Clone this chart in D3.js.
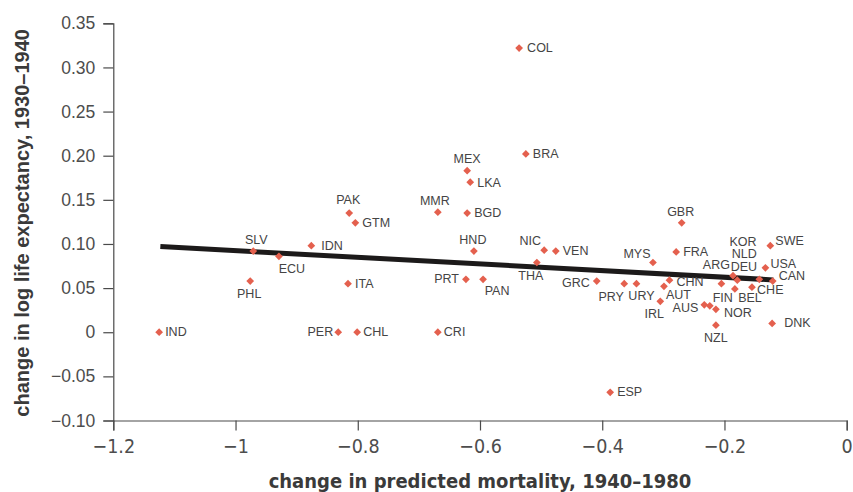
<!DOCTYPE html>
<html>
<head>
<meta charset="utf-8">
<script src="https://cdn.jsdelivr.net/npm/d3@7"></script>
<style>
  html, body { margin: 0; padding: 0; background: #fff; }
  svg { display: block; }
</style>
</head>
<body>
<svg id="chart" width="853" height="492"></svg>
<script>
// ---- data ----
const countries = ["COL","BRA","MEX","LKA","MMR","BGD","PAK","GTM","HND","NIC","VEN","THA","IDN","SLV","ECU","PHL","ITA","IND","PER","CHL","CRI","PRT","PAN","GRC","ESP","GBR","FRA","MYS","PRY","URY","CHN","AUT","IRL","ARG","KOR","NLD","DEU","FIN","BEL","CHE","CAN","USA","SWE","DNK","AUS","NOR","NZL"];
const mortalityChange = [-0.536,-0.525,-0.621,-0.616,-0.669,-0.621,-0.814,-0.804,-0.610,-0.495,-0.476,-0.507,-0.876,-0.971,-0.929,-0.976,-0.816,-1.125,-0.832,-0.801,-0.669,-0.623,-0.595,-0.409,-0.387,-0.270,-0.279,-0.317,-0.364,-0.344,-0.290,-0.299,-0.305,-0.205,-0.186,-0.179,-0.183,-0.224,-0.155,-0.143,-0.121,-0.133,-0.125,-0.122,-0.233,-0.214,-0.214];
const lifeExpChange = [0.322,0.202,0.183,0.170,0.136,0.135,0.135,0.124,0.092,0.093,0.092,0.079,0.098,0.092,0.086,0.058,0.055,0.000,0.000,0.000,0.000,0.060,0.060,0.058,-0.068,0.124,0.091,0.079,0.055,0.055,0.059,0.052,0.035,0.055,0.064,0.059,0.049,0.030,0.051,0.060,0.058,0.073,0.098,0.010,0.031,0.026,0.008];
const xTicks = [-1.2,-1,-0.8,-0.6,-0.4,-0.2,0];
const yTicks = [-0.10,-0.05,0,0.05,0.10,0.15,0.20,0.25,0.30,0.35];
const fitIntercept = 0.0548;
const fitSlope = -0.0376;
const fitRange = [-1.123, -0.120];
const xTitle = "change in predicted mortality, 1940–1980";
const yTitle = "change in log life expectancy, 1930–1940";

// ---- label placement (layout only) ----
const labelPlace = {
  COL:["start",8,0], BRA:["start",7,0], MEX:["middle",0,-12], LKA:["start",7,1],
  MMR:["middle",-3,-11], BGD:["start",7,0], PAK:["middle",-1,-13], GTM:["start",7,0],
  HND:["middle",-1,-11], NIC:["middle",-14,-9], VEN:["start",7,0], THA:["middle",-6,13],
  IDN:["start",10,0], SLV:["middle",3,-11], ECU:["middle",13,13], PHL:["middle",-1,13],
  ITA:["start",7,0], IND:["start",6,0], PER:["end",-5,0], CHL:["start",6,0],
  CRI:["start",6,0], PRT:["end",-7,0], PAN:["middle",14,12], GRC:["end",-7,2],
  ESP:["start",7,0], GBR:["middle",-1,-11], FRA:["start",7,0], MYS:["middle",-16,-9],
  PRY:["middle",-13,13], URY:["middle",5,12], CHN:["start",7,2], AUT:["start",2,9],
  IRL:["middle",-6,13], ARG:["middle",-5,-19], KOR:["middle",10,-34], NLD:["middle",7,-26],
  DEU:["middle",9,-22], FIN:["middle",13,-8], BEL:["middle",-2,11], CHE:["middle",11,11],
  CAN:["start",6,-5], USA:["start",5,-4], SWE:["start",5,-5], DNK:["start",12,0],
  AUS:["end",-6,3], NOR:["start",8,4], NZL:["middle",0,13]
};

const svg = d3.select("#chart");
const mLeft = 113.3, mRight = 846.7, mTop = 23.3, mBottom = 420.5;

const x = d3.scaleLinear().domain([-1.2, 0]).range([mLeft, mRight]);
const y = d3.scaleLinear().domain([-0.10, 0.35]).range([mBottom, mTop]);

const axisColor = "#4a4a4a";
const tickFont = "'Liberation Sans', Arial, sans-serif";
const narrowFont = "'Liberation Sans Narrow', 'DejaVu Sans Condensed', Arial, sans-serif";

const fmtY = v => {
  if (Math.abs(v) < 1e-9) return "0";
  const s = Math.abs(v).toFixed(2);
  return (v < 0 ? "\u2212" : "") + s;
};
const fmtX = v => {
  if (Math.abs(v) < 1e-9) return "0";
  return (v < 0 ? "\u2212" : "") + String(Math.abs(v));
};

// y axis
const yAxis = svg.append("g")
  .attr("transform", `translate(${mLeft},0)`)
  .call(d3.axisLeft(y).tickValues(yTicks).tickFormat(fmtY).tickSize(10).tickPadding(8));
yAxis.select(".domain").attr("stroke", axisColor).attr("stroke-width", 1.2);
yAxis.selectAll(".tick line").attr("stroke", axisColor).attr("stroke-width", 1.2);
yAxis.selectAll(".tick text").attr("fill", "#4d4d4d").style("font-family", tickFont).style("font-size", "17.5px");

// x axis
const xAxis = svg.append("g")
  .attr("transform", `translate(0,${mBottom})`)
  .call(d3.axisBottom(x).tickValues(xTicks).tickFormat(fmtX).tickSize(10).tickPadding(9));
xAxis.select(".domain").attr("stroke", axisColor).attr("stroke-width", 1.2);
xAxis.selectAll(".tick line").attr("stroke", axisColor).attr("stroke-width", 1.2);
xAxis.selectAll(".tick text").attr("fill", "#4d4d4d").style("font-family", narrowFont).style("font-size", "19.5px");

// axis titles
svg.append("text")
  .attr("x", (mLeft + mRight) / 2)
  .attr("y", 488)
  .attr("text-anchor", "middle")
  .style("font-family", narrowFont)
  .style("font-weight", "bold")
  .style("font-size", "20px")
  .attr("fill", "#3a3a3a")
  .text(xTitle);

svg.append("text")
  .attr("transform", `translate(29,${(mTop + mBottom) / 2 + 1}) rotate(-90)`)
  .attr("text-anchor", "middle")
  .style("font-family", tickFont)
  .style("font-weight", "bold")
  .style("font-size", "20px")
  .attr("fill", "#3a3a3a")
  .text(yTitle);

// regression line
svg.append("line")
  .attr("x1", x(fitRange[0])).attr("y1", y(fitIntercept + fitSlope * fitRange[0]))
  .attr("x2", x(fitRange[1])).attr("y2", y(fitIntercept + fitSlope * fitRange[1]))
  .attr("stroke", "#1c1a1a").attr("stroke-width", 5);

// points
const data = countries.map((c, i) => ({ c, x: mortalityChange[i], y: lifeExpChange[i] }));
const sym = d3.symbol().type(d3.symbolSquare).size(30);

svg.append("g").selectAll("path").data(data).join("path")
  .attr("d", sym)
  .attr("transform", d => `translate(${x(d.x)},${y(d.y)}) rotate(45)`)
  .attr("fill", "#e4604e");

svg.append("g").selectAll("text").data(data).join("text")
  .attr("x", d => x(d.x) + (labelPlace[d.c] ? labelPlace[d.c][1] : 6))
  .attr("y", d => y(d.y) + (labelPlace[d.c] ? labelPlace[d.c][2] : 0))
  .attr("text-anchor", d => labelPlace[d.c] ? labelPlace[d.c][0] : "start")
  .attr("dominant-baseline", "central")
  .style("font-family", tickFont)
  .style("font-size", "12.5px")
  .attr("fill", "#444")
  .text(d => d.c);
</script>
</body>
</html>
